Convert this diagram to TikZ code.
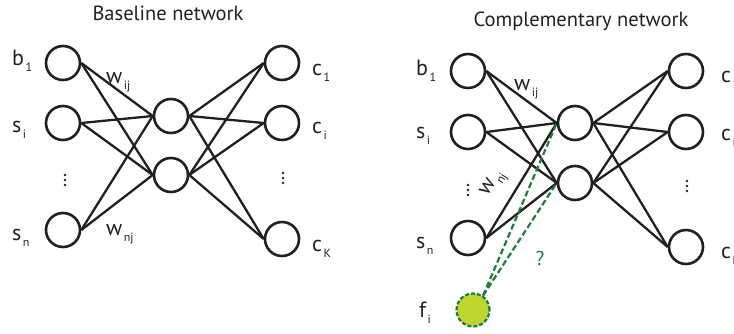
\documentclass[tikz,border=0pt]{standalone}
\usepackage{fontspec}
\setmainfont{PT Sans}
\definecolor{ink}{HTML}{231F20}
\definecolor{dgreen}{HTML}{1E7B3A}
\definecolor{limefill}{HTML}{BFD630}
\newcommand{\lbl}[2]{#1\hspace{1.5pt}\raisebox{-6.5pt}{\fontsize{12}{12}\selectfont #2}}
\begin{document}
\begin{tikzpicture}[x=1pt,y=-1pt,
  neuron/.style={circle,draw=ink,line width=2.6pt,minimum size=34pt,inner sep=0pt},
  edge/.style={draw=ink,line width=2.3pt},
  lab/.style={anchor=base west,inner sep=0pt,text=ink,font=\fontsize{22}{22}\selectfont},
  ttl/.style={anchor=base,inner sep=0pt,text=ink,font=\fontsize{20.5}{20.5}\selectfont},
  dotsmark/.style={fill=ink},
  qedge/.style={draw=dgreen,line width=2.2pt,dash pattern=on 6pt off 3pt},
  fnode/.style={circle,draw=dgreen,fill=limefill,line width=2.2pt,dash pattern=on 4pt off 2pt,minimum size=33pt,inner sep=0pt}
]
\useasboundingbox (0,0) rectangle (734,333);

% ---------- Baseline network ----------
\node[ttl] (t1) at (168,20) {Baseline network};
\node[neuron] (a1) at (63,63) {};
\node[neuron] (a2) at (63,123) {};
\node[neuron] (a3) at (63,230) {};
\node[neuron] (ah1) at (171,116) {};
\node[neuron] (ah2) at (171,175) {};
\node[neuron] (ao1) at (282,63) {};
\node[neuron] (ao2) at (282,123) {};
\node[neuron] (ao3) at (282,239) {};
\foreach \i in {a1,a2,a3}{
  \foreach \h in {ah1,ah2}{ \draw[edge] (\i.east) -- (\h.west); }}
\foreach \h in {ah1,ah2}{
  \foreach \o in {ao1,ao2,ao3}{ \draw[edge] (\h.east) -- (\o.west); }}
\node[lab] (la1) at (12,65) {\lbl{b}{1}};
\node[lab] (la2) at (12,132) {\lbl{s}{i}};
\node[lab] (la3) at (12,240) {\lbl{s}{n}};
\node[lab] (lo1) at (312,75) {\lbl{c}{1}};
\node[lab] (lo2) at (312,133) {\lbl{c}{i}};
\node[lab] (lo3) at (312,251) {\lbl{c}{K}};
\foreach \d in {-5,0,5}{
  \fill[dotsmark] (65,180+\d) circle (1.4pt);
  \fill[dotsmark] (283,178+\d) circle (1.4pt);
  \fill[dotsmark] (468,190+\d) circle (1.4pt);
  \fill[dotsmark] (687,186+\d) circle (1.4pt);
}
\node[lab] (aw1) at (106,83) {\lbl{w}{ij}};
\node[lab] (aw2) at (106,235) {\lbl{w}{nj}};

% ---------- Complementary network ----------
\node[ttl] (t2) at (581,26) {Complementary network};
\node[neuron] (b1) at (468,71) {};
\node[neuron] (b2) at (468,132) {};
\node[neuron] (b3) at (468,238) {};
\node[neuron] (bh1) at (575,123) {};
\node[neuron] (bh2) at (575,183) {};
\node[neuron] (bo1) at (686,71) {};
\node[neuron] (bo2) at (686,132) {};
\node[neuron] (bo3) at (686,247) {};
\foreach \i in {b1,b2,b3}{
  \foreach \h in {bh1,bh2}{ \draw[edge] (\i.east) -- (\h.west); }}
\foreach \h in {bh1,bh2}{
  \foreach \o in {bo1,bo2,bo3}{ \draw[edge] (\h.east) -- (\o.west); }}
\node[fnode] (f) at (473,310) {};
\draw[qedge] (f.55) -- (bh1.west);
\draw[qedge] (f.55) -- (bh2.west);
\node[lab] (lb1) at (416,75) {\lbl{b}{1}};
\node[lab] (lb2) at (416,138) {\lbl{s}{i}};
\node[lab] (lb3) at (416,248) {\lbl{s}{n}};
\node[lab] (lf) at (419,317) {\lbl{f}{i}};
\node[lab] (lc1) at (721,82) {\lbl{c}{1}};
\node[lab] (lc2) at (721,140) {\lbl{c}{i}};
\node[lab] (lc3) at (721,258) {\lbl{c}{K}};
\node[lab] (bw1) at (514,90) {\lbl{w}{ij}};
\node[lab,anchor=center,rotate=58] (bw2) at (494,184) {\lbl{w}{nj}};
\node[inner sep=0pt,text=dgreen,font=\fontsize{20}{20}\selectfont] (q) at (540,258) {?};
\end{tikzpicture}
\end{document}
